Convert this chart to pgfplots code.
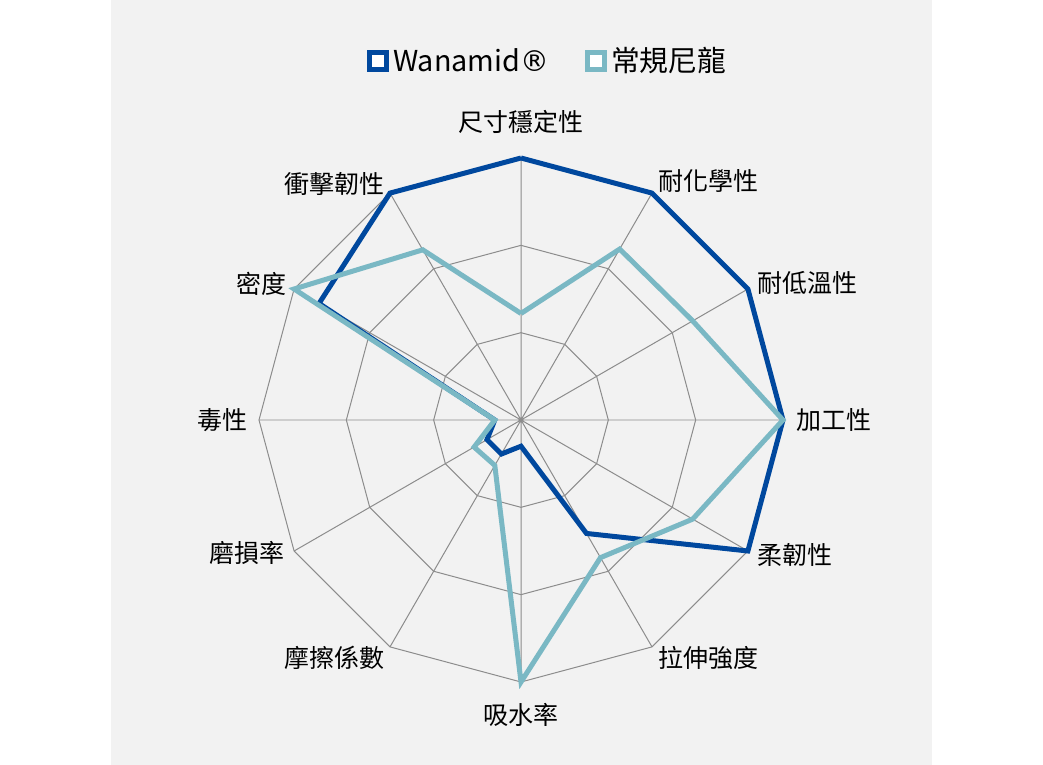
\documentclass[border=0pt]{standalone}
\usepackage{fontspec}
\setmainfont{Noto Sans CJK TC}
\newfontfamily\dejavu{DejaVu Sans}
\usepackage{pgfplots}
\pgfplotsset{compat=1.18}
\usepgfplotslibrary{polar}

\definecolor{wana}{RGB}{0,72,158}
\definecolor{nylon}{RGB}{122,184,196}
\definecolor{panel}{RGB}{242,242,242}
\definecolor{gridc}{RGB}{140,140,140}

\tikzset{lbl/.style={font=\fontsize{12.5bp}{15bp}\selectfont, inner sep=0pt}}

\begin{document}
\begin{tikzpicture}
\fill[white] (0,0) rectangle (521.5bp,382.5bp);
\fill[panel] (55.5bp,0) rectangle (466bp,382.5bp);
\begin{polaraxis}[
  at={(260.5bp,172.5bp)}, anchor=center,
  scale only axis, width=262bp, height=262bp,
  ymin=0, ymax=3,
  ytick=\empty,
  xtick={0,30,...,330},
  xticklabels={},
  xmajorgrids,
  major grid style={gridc, line width=0.5bp},
  major tick length=0pt,
  axis line style={draw=none},
  clip=false,
  legend columns=2,
  legend style={draw=none, fill=none, at={(0.553,1.185)}, anchor=center,
    font=\fontsize{14.4bp}{17bp}\selectfont,
    /tikz/every even column/.append style={column sep=16bp}},
  legend image code/.code={\draw[#1, line width=2.5bp, fill=white] (0bp,-4.25bp) rectangle (8.5bp,4.25bp);},
]
\addplot[gridc, line width=0.5bp, forget plot] coordinates {(0,1)(30,1)(60,1)(90,1)(120,1)(150,1)(180,1)(210,1)(240,1)(270,1)(300,1)(330,1)(360,1)};
\addplot[gridc, line width=0.5bp, forget plot] coordinates {(0,2)(30,2)(60,2)(90,2)(120,2)(150,2)(180,2)(210,2)(240,2)(270,2)(300,2)(330,2)(360,2)};
\addplot[gridc, line width=0.5bp, forget plot] coordinates {(0,3)(30,3)(60,3)(90,3)(120,3)(150,3)(180,3)(210,3)(240,3)(270,3)(300,3)(330,3)(360,3)};

% Wanamid
\addplot[wana, line width=2.5bp] coordinates {
(90,3)(60,3)(30,3)(0,3)(-30,3)(-60,1.5)(-90,0.3)(-120,0.45)(-150,0.45)(-180,0.3)(-210,2.67)(-240,3)(-270,3)
};
\addlegendentry{Wanamid{\dejavu ®}}
% conventional nylon
\addplot[nylon, line width=2.5bp] coordinates {
(90,1.22)(60,2.26)(30,2.27)(0,3)(-30,2.27)(-60,1.82)(-90,3)(-120,0.6)(-150,0.62)(-180,0.3)(-210,3)(-240,2.25)(-270,1.22)
};
\addlegendentry{常規尼龍}

% category labels
\node[lbl, anchor=center, yshift=18bp] at (axis cs:90,3) {尺寸穩定性};
\node[lbl, anchor=west, xshift=3bp, yshift=6bp] at (axis cs:60,3) {耐化學性};
\node[lbl, anchor=west, xshift=4.5bp, yshift=3bp] at (axis cs:30,3) {耐低溫性};
\node[lbl, anchor=west, xshift=6.5bp] at (axis cs:0,3) {加工性};
\node[lbl, anchor=west, xshift=4.5bp, yshift=-2bp] at (axis cs:330,3) {柔韌性};
\node[lbl, anchor=west, xshift=3bp, yshift=-5.5bp] at (axis cs:300,3) {拉伸強度};
\node[lbl, anchor=center, yshift=-16.5bp] at (axis cs:270,3) {吸水率};
\node[lbl, anchor=east, xshift=-2.5bp, yshift=-5.5bp] at (axis cs:240,3) {摩擦係數};
\node[lbl, anchor=east, xshift=-4.5bp, yshift=-1bp] at (axis cs:210,3) {磨損率};
\node[lbl, anchor=east, xshift=-5.5bp] at (axis cs:180,3) {毒性};
\node[lbl, anchor=east, xshift=-3.5bp, yshift=2.5bp] at (axis cs:150,3) {密度};
\node[lbl, anchor=east, xshift=-2.5bp, yshift=4.5bp] at (axis cs:120,3) {衝擊韌性};
\end{polaraxis}
\end{tikzpicture}
\end{document}
